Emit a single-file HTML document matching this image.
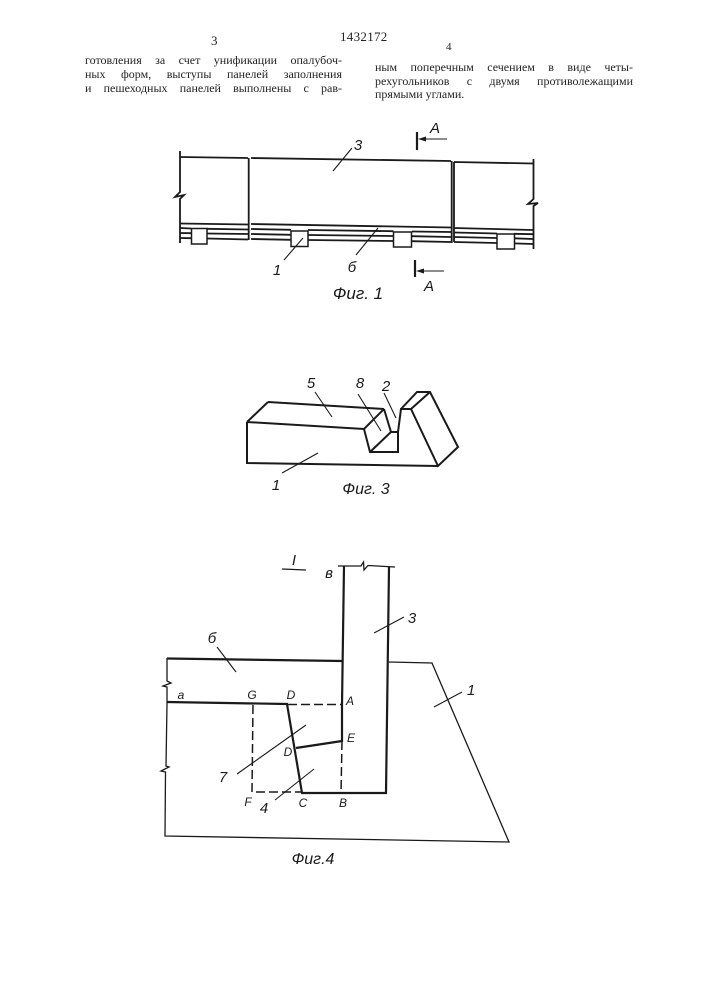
<!DOCTYPE html>
<html lang="ru">
<head>
<meta charset="utf-8">
<title>1432172</title>
<style>
html,body{margin:0;padding:0;background:#fff}
#p{position:relative;width:707px;height:1000px;overflow:hidden;background:#fff}
svg{position:absolute;left:0;top:0}
.t{position:absolute;font-family:"Liberation Serif","Noto Serif CJK SC",serif;font-size:12px;line-height:14px;color:#222;text-align:justify;text-align-last:justify;white-space:normal}
.n{position:absolute;font-family:"Liberation Serif",serif;color:#222}
.l text{font-family:"Liberation Sans","Noto Sans CJK SC",sans-serif;font-style:italic;fill:#1a1a1a;text-anchor:middle}
</style>
</head>
<body>
<div id="p">
<div class="n" style="left:211px;top:33px;font-size:13px">3</div>
<div class="n" style="left:340px;top:29px;font-size:13px;letter-spacing:.3px">1432172</div>
<div class="n" style="left:446px;top:41px;font-size:11px">4</div>
<div class="t" style="left:85px;top:53px;width:257px">готовления за счет унификации опалубоч-</div>
<div class="t" style="left:85px;top:67px;width:257px">ных форм, выступы панелей заполнения</div>
<div class="t" style="left:85px;top:81px;width:257px">и пешеходных панелей выполнены с рав-</div>
<div class="t" style="left:375px;top:60px;width:258px">ным поперечным сечением в виде четы-</div>
<div class="t" style="left:375px;top:73.500px;width:258px">рехугольников с двумя противолежащими</div>
<div class="t" style="left:375px;top:86.500px;width:165px;text-align-last:left">прямыми углами.</div>

<svg width="707" height="1000" viewBox="0 0 707 1000" fill="none" stroke="#1a1a1a" stroke-linejoin="miter">
<!-- Fig 1 -->
<g stroke-width="1.800">
<path d="M180 151V192L175 197 184 195 180 199V243"/>
<path d="M180 157L248 158M248.700 158V240"/>
<path d="M251 158L451 161M451.700 161V243"/>
<path d="M454 162V242M454 162L533.500 163.500"/>
<path d="M533.500 159V199L528 204 538 203 533.500 206V249"/>
<path d="M180 223.500L248 224.500M180 228L191 228.500M207 228.800L248 229.500M180 233L191 233.200M207 233.500L248 234M180 238L191 238.200M207 238.500L248 239.500"/>
<path d="M251 224L451 227.500M251 229L291 229.800M308 230L393.500 231.200M412 231.500L451 232M251 234L291 234.800M308 235L393.500 236M412 236.200L451 237M251 239L291 239.800M308 240L393.500 241M412 241.200L451 242"/>
<path d="M454 228L533 230M454 232.500L497 233.500M514 233.800L533 234.200M454 237L497 238M514 238.300L533 239M454 242L497 243M514 243.400L533 244"/>
<rect x="191.500" y="228.500" width="15.500" height="15.500" fill="#fff" stroke-width="1.500"/>
<rect x="291" y="231" width="17" height="15.500" fill="#fff" stroke-width="1.500"/>
<rect x="393.500" y="232" width="18" height="15" fill="#fff" stroke-width="1.500"/>
<rect x="497" y="234" width="17.500" height="15" fill="#fff" stroke-width="1.500"/>
<path d="M417 132V150M415 260V277" stroke-width="2.200"/>
</g>
<g stroke-width="1.100">
<path d="M447 139H424M444 271H422"/>
<path d="M352 148L333 171M303 238L284 260M378 228L356 255"/>
</g>
<path d="M418 139L426 136.500V141.500ZM416 271L424 268.500V273.500Z" fill="#1a1a1a" stroke="none"/>

<!-- Fig 3 -->
<g stroke-width="2">
<path d="M268 402L384 409M247 422L268 402M247 422L364 429L384 409"/>
<path d="M384 409L391 432H398V452H370L364 429M370 452L391 432"/>
<path d="M398 432L401 409H411L438 466L458 447L430 392H417L401 409M411 409L430 392"/>
<path d="M247 422V463L438 466"/>
</g>
<path d="M315 392L332 417M358 394L381 431M384 393L396 418M318 453L282 473" stroke-width="1.100"/>

<!-- Fig 4 -->
<g stroke-width="1.100">
<path d="M217 647L236 672M404 617L374 633M462 692L434 707M306 725L237 774M314 769L275 800"/>
</g>
<g stroke-width="1.300">
<path d="M282 569L306 570"/>
<path d="M338 566H361L363.500 562 364 570 368 565.500L395 567"/>
<path d="M389 662L432 663L509 842L165 836L165.500 772L161 771 169 767 166 766L167 704L167 687L163 686 171 683 167 681V658"/>
</g>
<g stroke-width="2.200">
<path d="M167 658.500L342 661M344 566L342 705V741L296 748M167 702L287 704L302 793H386L389 567"/>
</g>
<g stroke-width="1.500" stroke-dasharray="9 4">
<path d="M288 704.500H342M253 705L252 792H302M342 741L341 793"/>
</g>
<g class="l" stroke="none">
<text x="358" y="150" font-size="15">3</text>
<text x="277" y="275" font-size="15">1</text>
<text x="352" y="272" font-size="15">б</text>
<text x="435" y="133" font-size="15">A</text>
<text x="429" y="291" font-size="15">A</text>
<text x="358" y="299" font-size="17">Фиг. 1</text>
<text x="311" y="388" font-size="15">5</text>
<text x="360" y="388" font-size="15">8</text>
<text x="386" y="391" font-size="15">2</text>
<text x="276" y="490" font-size="15">1</text>
<text x="366" y="494" font-size="16">Фиг. 3</text>
<text x="294" y="565" font-size="15">I</text>
<text x="329" y="578" font-size="15">в</text>
<text x="212" y="643" font-size="15">б</text>
<text x="412" y="623" font-size="15">3</text>
<text x="471" y="695" font-size="15">1</text>
<text x="223" y="782" font-size="15">7</text>
<text x="264" y="813" font-size="15">4</text>
<text x="181" y="699" font-size="12">a</text>
<text x="252" y="699" font-size="12">G</text>
<text x="291" y="699" font-size="12">D</text>
<text x="350" y="705" font-size="12">A</text>
<text x="351" y="742" font-size="12">E</text>
<text x="288" y="756" font-size="12">D</text>
<text x="248" y="806" font-size="12">F</text>
<text x="303" y="807" font-size="12">C</text>
<text x="343" y="807" font-size="12">B</text>
<text x="313" y="864" font-size="16">Фиг.4</text>
</g>
</svg>
</div>
</body>
</html>
